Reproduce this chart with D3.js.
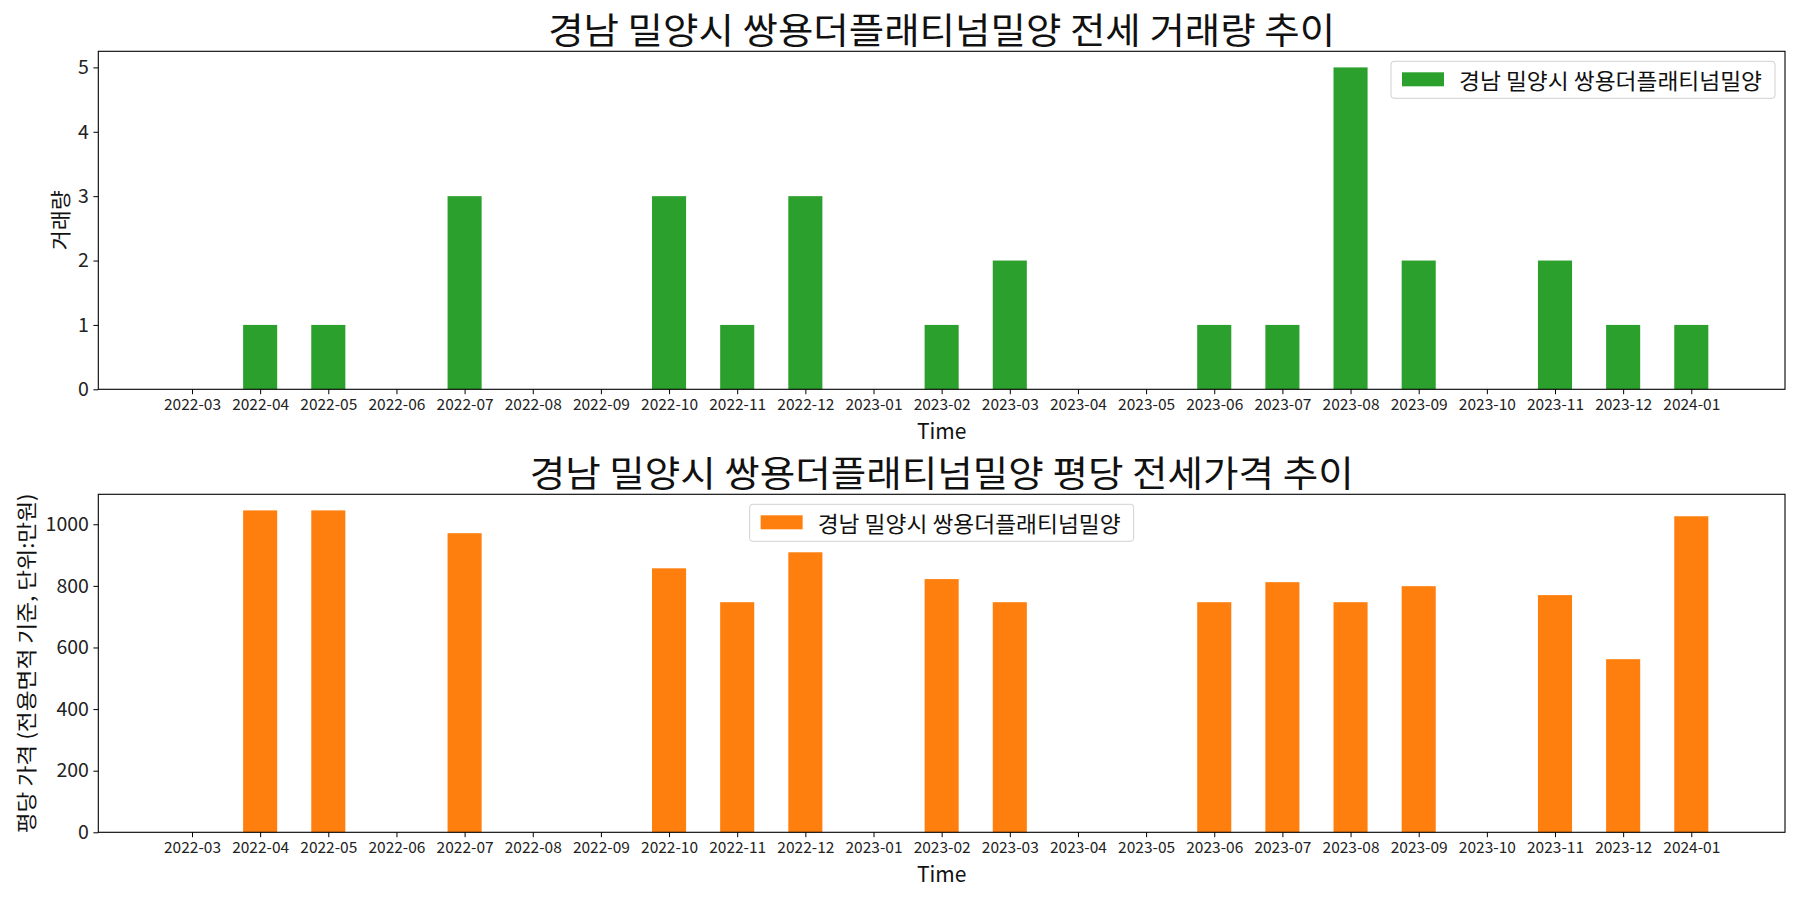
<!DOCTYPE html>
<html>
<head>
<meta charset="utf-8">
<script src="https://cdn.jsdelivr.net/npm/d3@7"></script>
<style>
  body { margin: 0; background: #fff; }
  svg { display: block; font-family: "Noto Sans CJK KR", "Noto Sans", sans-serif; }
</style>
</head>
<body>
<svg id="chart" width="1800" height="900"></svg>
<script>
// months on the x axis
const months = ["2022-03", "2022-04", "2022-05", "2022-06", "2022-07", "2022-08", "2022-09", "2022-10",
  "2022-11", "2022-12", "2023-01", "2023-02", "2023-03", "2023-04", "2023-05", "2023-06", "2023-07",
  "2023-08", "2023-09", "2023-10", "2023-11", "2023-12", "2024-01"];

// 거래량 per month
const volume = [0, 1, 1, 0, 3, 0, 0, 3, 1, 3, 0, 1, 2, 0, 0, 1, 1, 5, 2, 0, 2, 1, 1];

// 평당 전세가격 per month (만원)
const price = [0, 1045, 1045, 0, 971, 0, 0, 857, 747, 909, 0, 822, 747, 0, 0, 747, 812, 747, 799, 0, 770, 562, 1026];

const seriesName = "경남 밀양시 쌍용더플래티넘밀양";
const volumeTicks = [0, 1, 2, 3, 4, 5];
const priceTicks = [0, 200, 400, 600, 800, 1000];

const svg = d3.select("#chart");

// both panels share the same horizontal layout
const left = 98.3, right = 1785;
const x = d3.scaleLinear()
  .domain([-1.375, months.length - 1 + 1.375])
  .range([left, right]);
const barW = x(0.5) - x(0);

function drawPanel(opt) {
  const { top, bottom, values, ticks, color, title, titleLen, ylabel, ylabelLen, ylabelX, legendPos } = opt;
  const g = svg.append("g");

  const y = d3.scaleLinear()
    .domain([0, d3.max(values) * 1.05])
    .range([bottom, top]);

  // bars
  g.selectAll("rect.bar")
    .data(values)
    .join("rect")
    .attr("class", "bar")
    .attr("x", (d, i) => x(i - 0.25))
    .attr("width", barW)
    .attr("y", d => y(d))
    .attr("height", d => bottom - y(d))
    .attr("fill", color);

  // x axis
  const xAxis = g.append("g")
    .attr("transform", `translate(0,${bottom})`)
    .call(d3.axisBottom(x)
      .tickValues(d3.range(months.length))
      .tickFormat(i => months[i])
      .tickSizeInner(4.9)
      .tickSizeOuter(0)
      .tickPadding(4.5));
  xAxis.select(".domain").remove();
  xAxis.selectAll("text").attr("font-size", 15.5).attr("fill", "#222").attr("font-family", "'Noto Sans CJK KR'");
  xAxis.selectAll("line").attr("stroke", "#000").attr("stroke-width", 1);

  // y axis
  const yAxis = g.append("g")
    .attr("transform", `translate(${left},0)`)
    .call(d3.axisLeft(y)
      .tickValues(ticks)
      .tickFormat(d3.format("d"))
      .tickSizeInner(4.9)
      .tickSizeOuter(0)
      .tickPadding(4.5));
  yAxis.select(".domain").remove();
  yAxis.selectAll("text").attr("font-size", 19.5).attr("fill", "#222").attr("font-family", "'Noto Sans CJK KR'");
  yAxis.selectAll("line").attr("stroke", "#000").attr("stroke-width", 1);

  // frame
  g.append("rect")
    .attr("x", left).attr("y", top)
    .attr("width", right - left).attr("height", bottom - top)
    .attr("fill", "none").attr("stroke", "#000").attr("stroke-width", 1.1);

  // title
  g.append("text")
    .attr("x", (left + right) / 2).attr("y", top - 7)
    .attr("text-anchor", "middle")
    .attr("font-size", 36)
    .attr("textLength", titleLen)
    .attr("lengthAdjust", "spacingAndGlyphs")
    .attr("fill", "#111")
    .text(title);

  // axis labels
  g.append("text")
    .attr("x", (left + right) / 2).attr("y", bottom + 50)
    .attr("text-anchor", "middle")
    .attr("font-size", 21)
    .attr("fill", "#111")
    .text("Time");

  g.append("text")
    .attr("transform", `translate(${ylabelX},${(top + bottom) / 2}) rotate(-90)`)
    .attr("text-anchor", "middle")
    .attr("dominant-baseline", "central")
    .attr("font-size", 21)
    .attr("textLength", ylabelLen)
    .attr("lengthAdjust", "spacingAndGlyphs")
    .attr("fill", "#111")
    .text(ylabel);

  // legend
  const fs = 21.5, textLen = 303;
  const lg = g.append("g");
  const bw = 384, bh = 37;
  const bx = legendPos === "right" ? right - 10 - bw : (left + right) / 2 - bw / 2;
  const by = top + 10;
  lg.append("rect")
    .attr("x", bx).attr("y", by).attr("width", bw).attr("height", bh)
    .attr("fill", "#fff").attr("fill-opacity", 0.8)
    .attr("stroke", "#d0d0d0").attr("stroke-width", 1)
    .attr("rx", 3);
  lg.append("rect")
    .attr("x", bx + 11).attr("y", by + bh / 2 - 7.5)
    .attr("width", 42).attr("height", 14)
    .attr("fill", color);
  lg.append("text")
    .attr("x", bx + 68).attr("y", by + bh / 2)
    .attr("font-size", fs)
    .attr("dominant-baseline", "central")
    .attr("textLength", textLen)
    .attr("lengthAdjust", "spacingAndGlyphs")
    .attr("fill", "#111")
    .text(seriesName);
}

drawPanel({
  top: 51.3, bottom: 389.3,
  values: volume, ticks: volumeTicks,
  color: "#2ca02c",
  title: "경남 밀양시 쌍용더플래티넘밀양 전세 거래량 추이", titleLen: 787,
  ylabel: "거래량", ylabelLen: 60, ylabelX: 59,
  legendPos: "right"
});

drawPanel({
  top: 494.3, bottom: 832.3,
  values: price, ticks: priceTicks,
  color: "#ff7f0e",
  title: "경남 밀양시 쌍용더플래티넘밀양 평당 전세가격 추이", titleLen: 824,
  ylabel: "평당 가격 (전용면적 기준, 단위:만원)", ylabelLen: 340, ylabelX: 25,
  legendPos: "center"
});
</script>
</body>
</html>
